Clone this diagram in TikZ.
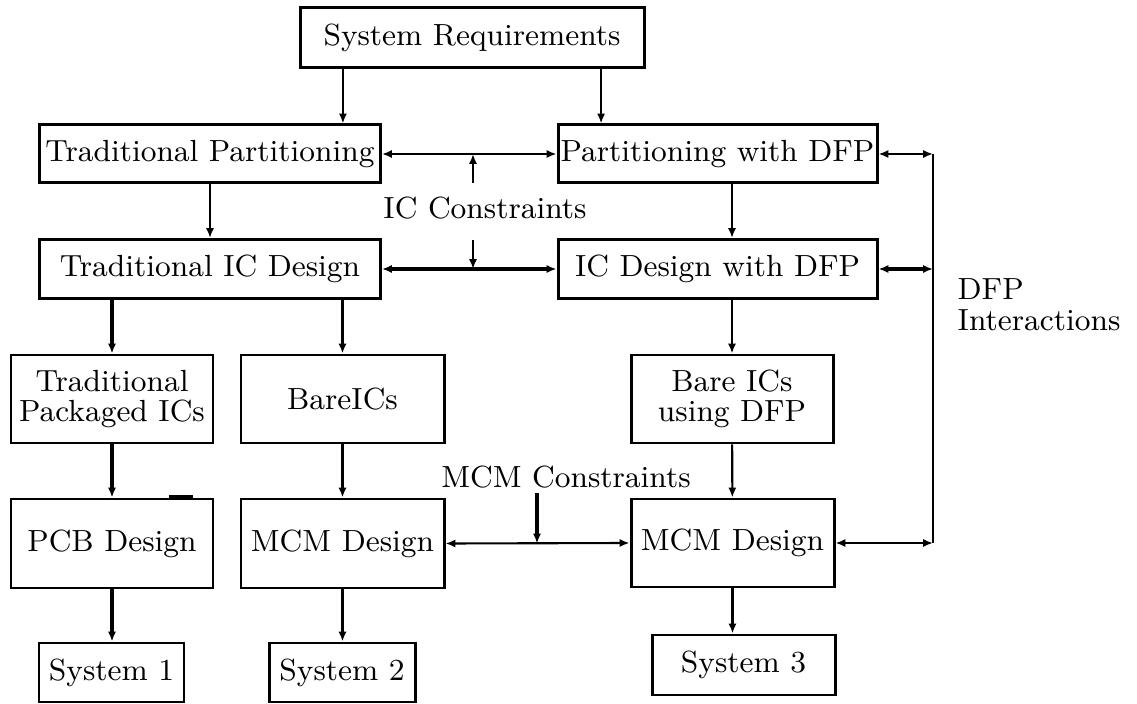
\documentclass[tikz,border=0pt]{standalone}
\usepackage{tikz}
\usetikzlibrary{positioning,calc,arrows.meta}

\begin{document}
\begin{tikzpicture}[
    x=0.01cm, y=-0.01cm,
    font=\fontsize{8.7}{8.7}\selectfont,
    >={Latex[length=2.8pt,width=2.3pt]},
    block/.style={rectangle, draw, line width=0.85pt, inner sep=0pt, align=center},
    dims/.style 2 args={minimum width=#1*0.01cm, minimum height=#2*0.01cm},
    line/.style={draw, ->, line width=0.6pt},
    heavy/.style={line, line width=1pt},
    tag/.style={inner sep=0pt}
]
\useasboundingbox (0,0) rectangle (1137,704);

% Nodes
\node [block, dims={344}{60}] (req) at (472,38) {System Requirements};
\node [block, dims={341}{58}] (tpart) at (210,154) {Traditional Partitioning};
\node [block, dims={319}{58}] (dpart) at (717.5,154) {Partitioning with DFP};
\node [block, dims={341}{59}] (tic) at (210,269) {Traditional IC Design};
\node [block, dims={319}{59}] (dic) at (717.5,269) {IC Design with DFP};
\node [block, dims={202}{88}] (tpkg) at (112,399) {Traditional\\Packaged ICs};
\node [block, dims={203}{88}] (bare) at (342.5,399) {BareICs};
\node [block, dims={202}{88}] (dbare) at (732,399) {Bare ICs\\using DFP};
\node [block, dims={202}{89}] (pcb) at (112,543.5) {PCB Design};
\node [block, dims={203}{89}] (mcm) at (342.5,543.5) {MCM Design};
\node [block, dims={203}{88}] (dmcm) at (732.5,543) {MCM Design};
\node [block, dims={145}{59}] (sys1) at (111.5,672.5) {System 1};
\node [block, dims={146}{59}] (sys2) at (342,672.5) {System 2};
\node [block, dims={183}{60}] (sys3) at (743.5,665) {System 3};

% Labels
\node [tag] (iccon) at (485,208) {IC Constraints};
\node [tag] (mcmcon) at (566,477) {MCM Constraints};
\node [tag, anchor=west, align=left] (dfpint) at (957,305) {DFP\\Interactions};
\coordinate (icup) at (473,183);
\coordinate (icdn) at (473,240);
\coordinate (mcmdn) at (537,493);
\coordinate (bus) at (933,154);

% Connectors
\path [line] ([xshift=-1.29cm]req.south) -- ([xshift=-1.29cm]req.south |- tpart.north);
\path [line] ([xshift=1.29cm]req.south) -- ([xshift=1.29cm]req.south |- dpart.north);
\path [line] (tpart) -- (tic);
\path [line] (dpart.south -| dbare.north) -- (dic.north -| dbare.north);
\path [heavy] (tic.south -| tpkg.north) -- (tpkg.north);
\path [line] (tic.south -| bare.north) -- (bare.north);
\path [line] (dic.south -| dbare.north) -- (dbare.north);
\path [heavy] (tpkg) -- (pcb);
\path [line] (bare) -- (mcm);
\path [line] (dbare) -- (dmcm);
\path [heavy] (pcb.south) -- (pcb.south |- sys1.north);
\path [line] (mcm.south) -- (mcm.south |- sys2.north);
\path [line] (dmcm.south) -- (dmcm.south |- sys3.north);
\draw [line width=1.1pt] ([xshift=0.57cm,yshift=0.01cm]pcb.north) -- ([xshift=0.81cm,yshift=0.01cm]pcb.north);

% Constraints
\path [line, <->] (tpart.east) -- (dpart.west);
\path [heavy, <->] (tic.east) -- (dic.west);
\path [line, <->] (mcm.east) -- (dmcm.west);
\path [line] (icup) -- (icup |- tpart.east);
\path [line] (icdn) -- (icdn |- tic.east);
\path [heavy] (mcmdn) -- (mcmdn |- mcm.east);

% DFP interactions
\draw [line width=0.7pt] (bus) -- (bus |- dmcm.east);
\path [line, <->] (dpart.east) -- (dpart.east -| bus);
\path [heavy, <->] (dic.east) -- (dic.east -| bus);
\path [line, <->] (dmcm.east) -- (dmcm.east -| bus);

\end{tikzpicture}
\end{document}
